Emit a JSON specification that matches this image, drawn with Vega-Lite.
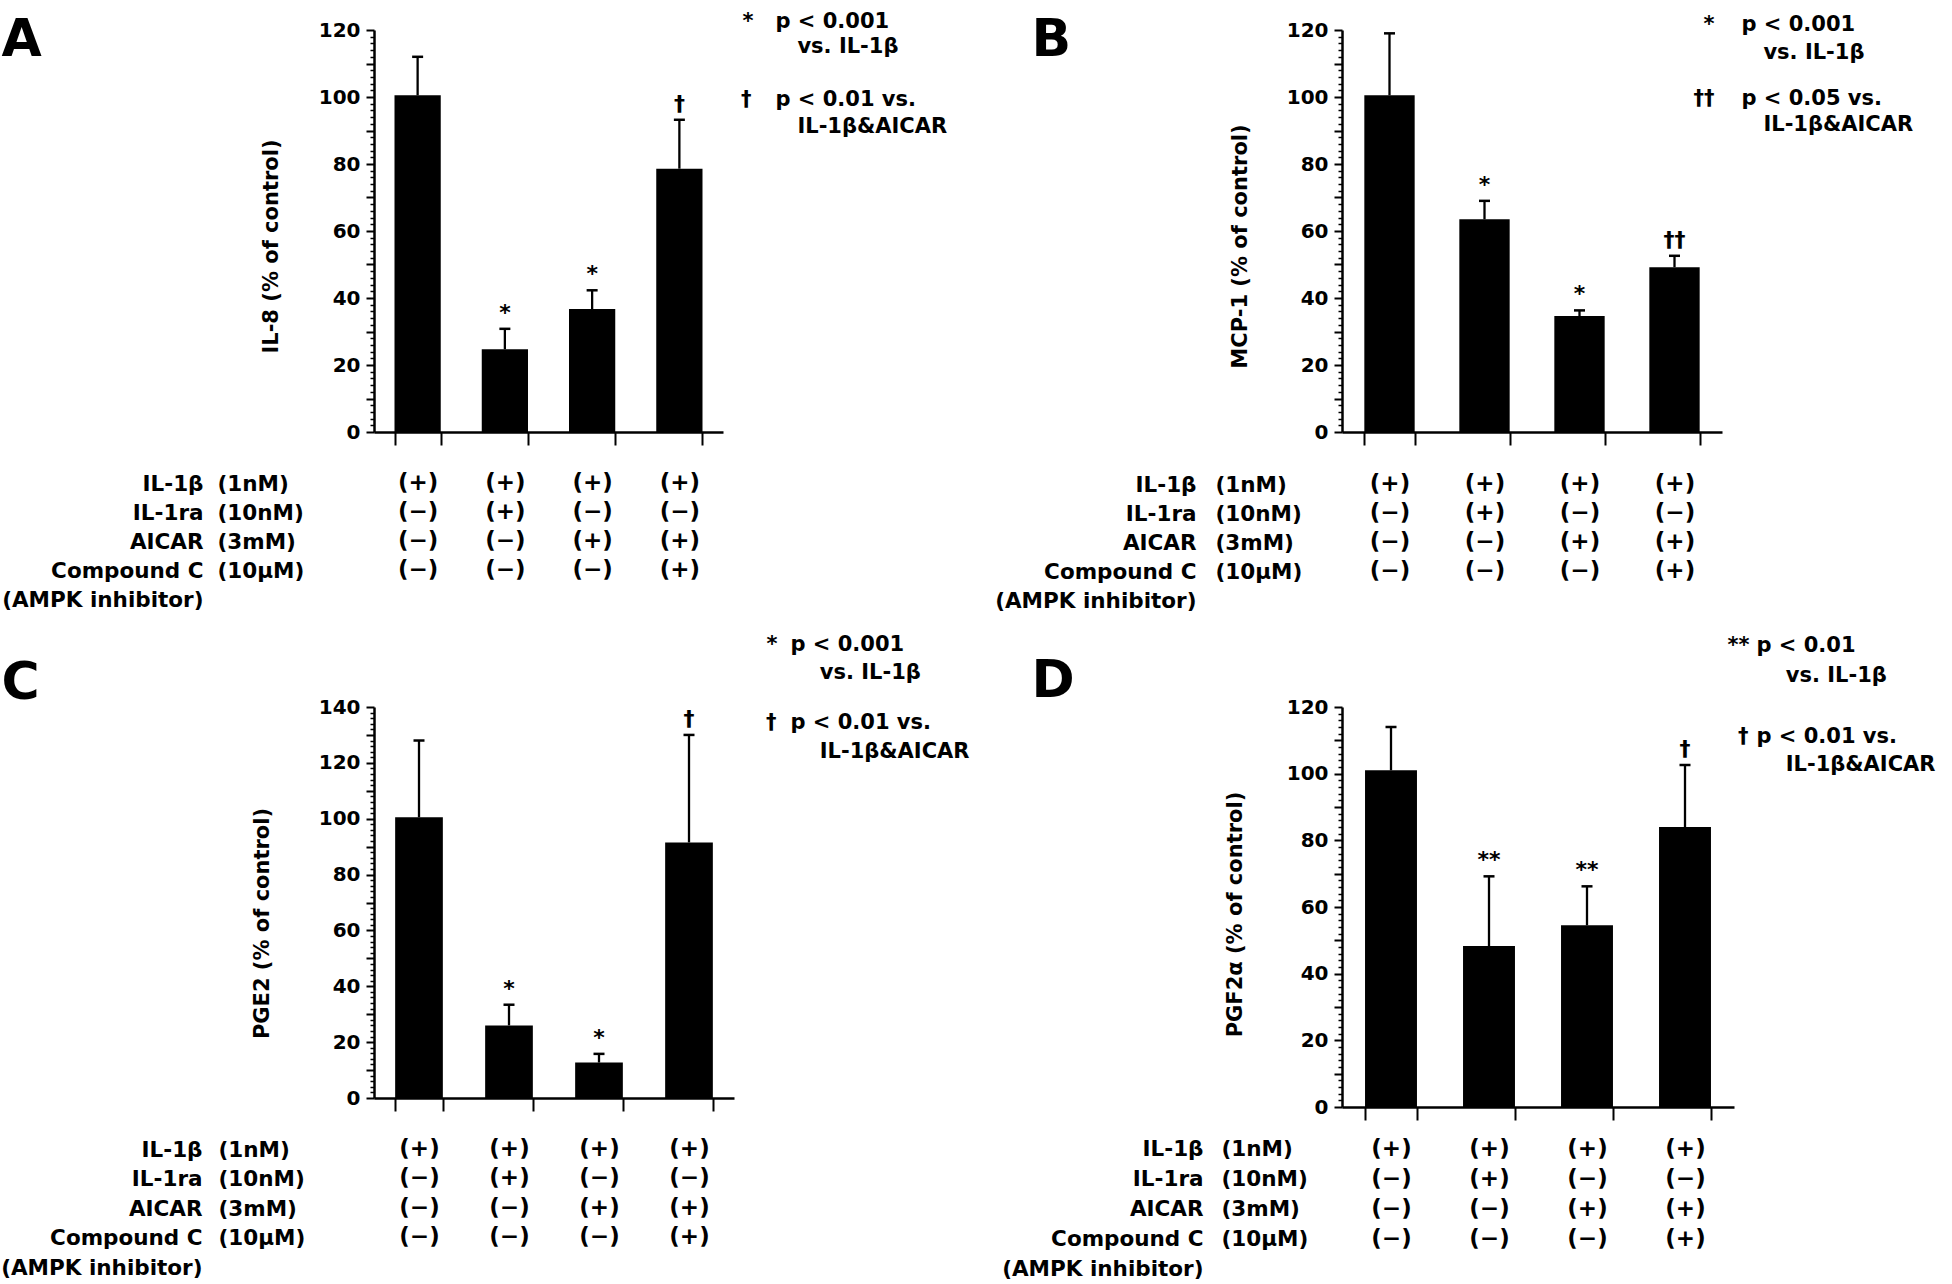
{
  "$schema": "https://vega.github.io/schema/vega-lite/v6.json",
  "background": "white",
  "padding": {"left": 0, "top": 6, "right": 0, "bottom": 0},
  "bounds": "flush",
  "align": "all",
  "columns": 2,
  "spacing": {"row": 275, "column": 576},
  "resolve": {"scale": {"x": "independent", "y": "independent"}},
  "config": {
    "view": {"stroke": null},
    "axis": {"labelFont": "DejaVu Sans", "titleFont": "DejaVu Sans", "labelFontWeight": "bold", "titleFontWeight": "bold", "labelColor": "black", "titleColor": "black", "tickColor": "black", "domainColor": "black", "grid": false}
  },
  "concat": [
    {
      "width": 349, "height": 402,
      "data": {"values": [
        {"cond": "+−−−", "mean": 100.5, "err": 112, "ann": ""},
        {"cond": "++−−", "mean": 24.7, "err": 30.8, "ann": "*"},
        {"cond": "+−+−", "mean": 36.7, "err": 42.3, "ann": "*"},
        {"cond": "+−++", "mean": 78.6, "err": 93.2, "ann": "†"}
      ]},
      "resolve": {"axis": {"x": "independent", "y": "independent"}},
      "layer": [
        {"mark": {"type": "bar", "color": "black"},
         "encoding": {
           "x": {"field": "cond", "type": "nominal", "sort": null, "scale": {"paddingInner": 0.47, "paddingOuter": 0.235},
                 "axis": {"orient": "bottom", "tickBand": "extent", "tickSize": 13, "tickWidth": 2, "domainWidth": 2.5, "labelAngle": 0, "labelFontSize": 23, "labelLineHeight": 29, "labelPadding": 26, "labelBaseline": "top",
                          "labelExpr": "isString(datum.value) ? ['(' + slice(datum.value,0,1) + ')', '(' + slice(datum.value,1,2) + ')', '(' + slice(datum.value,2,3) + ')', '(' + slice(datum.value,3,4) + ')'] : ''",
                          "title": ["IL-1β", "IL-1ra", "AICAR", "Compound C", "(AMPK inhibitor)"], "titleFontSize": 21.5, "titleLineHeight": 29, "titleAlign": "right", "titleBaseline": "top", "titleX": -171, "titleY": 41}},
           "y": {"field": "mean", "type": "quantitative", "scale": {"domain": [0, 120], "nice": false},
                 "axis": {"orient": "left", "values": [0,10,20,30,40,50,60,70,80,90,100,110,120], "labelExpr": "datum.value % 20 === 0 ? datum.label : ''", "tickSize": 8, "tickWidth": 2, "domainWidth": 2.5, "labelFontSize": 20, "labelPadding": 6,
                          "title": "IL-8 (% of control)", "titleFontSize": 21, "titleAngle": -90, "titleAlign": "center", "titleBaseline": "middle", "titleX": -103, "titleY": 216}}
         }},
        {"mark": {"type": "rule", "color": "black", "strokeWidth": 2.3},
         "encoding": {
           "x": {"field": "cond", "type": "nominal", "sort": null,
                 "axis": {"orient": "bottom", "labels": false, "ticks": false, "domain": false, "title": ["(1nM)", "(10nM)", "(3mM)", "(10μM)"], "titleFontSize": 21.5, "titleLineHeight": 29, "titleAlign": "left", "titleBaseline": "top", "titleX": -157, "titleY": 41}},
           "y": {"field": "mean", "type": "quantitative",
                 "axis": {"orient": "right", "labels": false, "ticks": false, "domain": false, "title": ["p < 0.001", "\u200b\u00a0\u00a0\u00a0vs. IL-1β"], "titleFontSize": 21, "titleLineHeight": 25, "titleAngle": 0, "titleAlign": "left", "titleBaseline": "top", "titleX": 52, "titleY": -20}},
           "y2": {"field": "err"}
         }},
        {"mark": {"type": "point", "shape": "stroke", "size": 121, "strokeWidth": 2.5, "color": "black", "opacity": 1},
         "encoding": {
           "x": {"field": "cond", "type": "nominal", "sort": null,
                 "axis": {"orient": "top", "labels": false, "ticks": false, "domain": false, "title": "*", "titleFontSize": 21, "titleAlign": "right", "titleBaseline": "top", "titleX": 379, "titleY": -20}},
           "y": {"field": "err", "type": "quantitative",
                 "axis": {"orient": "left", "labels": false, "domain": false, "tickSize": 4, "tickWidth": 1.5, "values": [2,4,6,8,12,14,16,18,22,24,26,28,32,34,36,38,42,44,46,48,52,54,56,58,62,64,66,68,72,74,76,78,82,84,86,88,92,94,96,98,102,104,106,108,112,114,116,118],
                          "title": "A", "titleFontSize": 52, "titleAngle": 0, "titleAlign": "left", "titleBaseline": "top", "titleX": -373, "titleY": -16}}
         }},
        {"mark": {"type": "text", "color": "black", "font": "DejaVu Sans", "fontWeight": "bold", "fontSize": 22, "baseline": "alphabetic", "dy": -9},
         "encoding": {
           "x": {"field": "cond", "type": "nominal", "sort": null,
                 "axis": {"orient": "top", "labels": false, "ticks": false, "domain": false, "title": "†", "titleFontSize": 21, "titleAlign": "right", "titleBaseline": "top", "titleX": 377, "titleY": 58}},
           "y": {"field": "err", "type": "quantitative",
                 "axis": {"orient": "right", "labels": false, "ticks": false, "domain": false, "title": ["p < 0.01 vs.", "\u200b\u00a0\u00a0\u00a0IL-1β&AICAR"], "titleFontSize": 21, "titleLineHeight": 27, "titleAngle": 0, "titleAlign": "left", "titleBaseline": "top", "titleX": 52, "titleY": 58}},
           "text": {"field": "ann"}
         }}
      ]
    },
    {
      "width": 380, "height": 402,
      "data": {"values": [
        {"cond": "+−−−", "mean": 100.5, "err": 119, "ann": ""},
        {"cond": "++−−", "mean": 63.5, "err": 69, "ann": "*"},
        {"cond": "+−+−", "mean": 34.6, "err": 36.3, "ann": "*"},
        {"cond": "+−++", "mean": 49.2, "err": 52.6, "ann": "††"}
      ]},
      "resolve": {"axis": {"x": "independent", "y": "independent"}},
      "layer": [
        {"mark": {"type": "bar", "color": "black"},
         "encoding": {
           "x": {"field": "cond", "type": "nominal", "sort": null, "scale": {"paddingInner": 0.47, "paddingOuter": 0.235},
                 "axis": {"orient": "bottom", "tickBand": "extent", "tickSize": 13, "tickWidth": 2, "domainWidth": 2.5, "labelAngle": 0, "labelFontSize": 23, "labelLineHeight": 29, "labelPadding": 27, "labelBaseline": "top",
                          "labelExpr": "isString(datum.value) ? ['(' + slice(datum.value,0,1) + ')', '(' + slice(datum.value,1,2) + ')', '(' + slice(datum.value,2,3) + ')', '(' + slice(datum.value,3,4) + ')'] : ''",
                          "title": ["IL-1β", "IL-1ra", "AICAR", "Compound C", "(AMPK inhibitor)"], "titleFontSize": 21.5, "titleLineHeight": 29, "titleAlign": "right", "titleBaseline": "top", "titleX": -146, "titleY": 42}},
           "y": {"field": "mean", "type": "quantitative", "scale": {"domain": [0, 120], "nice": false},
                 "axis": {"orient": "left", "values": [0,10,20,30,40,50,60,70,80,90,100,110,120], "labelExpr": "datum.value % 20 === 0 ? datum.label : ''", "tickSize": 8, "tickWidth": 2, "domainWidth": 2.5, "labelFontSize": 20, "labelPadding": 6,
                          "title": "MCP-1 (% of control)", "titleFontSize": 21, "titleAngle": -90, "titleAlign": "center", "titleBaseline": "middle", "titleX": -102, "titleY": 216}}
         }},
        {"mark": {"type": "rule", "color": "black", "strokeWidth": 2.3},
         "encoding": {
           "x": {"field": "cond", "type": "nominal", "sort": null,
                 "axis": {"orient": "bottom", "labels": false, "ticks": false, "domain": false, "title": ["(1nM)", "(10nM)", "(3mM)", "(10μM)"], "titleFontSize": 21.5, "titleLineHeight": 29, "titleAlign": "left", "titleBaseline": "top", "titleX": -127, "titleY": 42}},
           "y": {"field": "mean", "type": "quantitative",
                 "axis": {"orient": "right", "labels": false, "ticks": false, "domain": false, "title": ["p < 0.001", "\u200b\u00a0\u00a0\u00a0vs. IL-1β"], "titleFontSize": 21, "titleLineHeight": 28.5, "titleAngle": 0, "titleAlign": "left", "titleBaseline": "top", "titleX": 19, "titleY": -17}},
           "y2": {"field": "err"}
         }},
        {"mark": {"type": "point", "shape": "stroke", "size": 121, "strokeWidth": 2.5, "color": "black", "opacity": 1},
         "encoding": {
           "x": {"field": "cond", "type": "nominal", "sort": null,
                 "axis": {"orient": "top", "labels": false, "ticks": false, "domain": false, "title": "*", "titleFontSize": 21, "titleAlign": "right", "titleBaseline": "top", "titleX": 372, "titleY": -17}},
           "y": {"field": "err", "type": "quantitative",
                 "axis": {"orient": "left", "labels": false, "domain": false, "tickSize": 4, "tickWidth": 1.5, "values": [2,4,6,8,12,14,16,18,22,24,26,28,32,34,36,38,42,44,46,48,52,54,56,58,62,64,66,68,72,74,76,78,82,84,86,88,92,94,96,98,102,104,106,108,112,114,116,118],
                          "title": "B", "titleFontSize": 52, "titleAngle": 0, "titleAlign": "left", "titleBaseline": "top", "titleX": -311, "titleY": -16}}
         }},
        {"mark": {"type": "text", "color": "black", "font": "DejaVu Sans", "fontWeight": "bold", "fontSize": 22, "baseline": "alphabetic", "dy": -9},
         "encoding": {
           "x": {"field": "cond", "type": "nominal", "sort": null,
                 "axis": {"orient": "top", "labels": false, "ticks": false, "domain": false, "title": "††", "titleFontSize": 21, "titleAlign": "right", "titleBaseline": "top", "titleX": 372, "titleY": 57}},
           "y": {"field": "err", "type": "quantitative",
                 "axis": {"orient": "right", "labels": false, "ticks": false, "domain": false, "title": ["p < 0.05 vs.", "\u200b\u00a0\u00a0\u00a0IL-1β&AICAR"], "titleFontSize": 21, "titleLineHeight": 26, "titleAngle": 0, "titleAlign": "left", "titleBaseline": "top", "titleX": 19, "titleY": 57}},
           "text": {"field": "ann"}
         }}
      ]
    },
    {
      "width": 360, "height": 391,
      "data": {"values": [
        {"cond": "+−−−", "mean": 100.5, "err": 128, "ann": ""},
        {"cond": "++−−", "mean": 26, "err": 33.4, "ann": "*"},
        {"cond": "+−+−", "mean": 12.7, "err": 15.8, "ann": "*"},
        {"cond": "+−++", "mean": 91.5, "err": 130, "ann": "†"}
      ]},
      "resolve": {"axis": {"x": "independent", "y": "independent"}},
      "layer": [
        {"mark": {"type": "bar", "color": "black"},
         "encoding": {
           "x": {"field": "cond", "type": "nominal", "sort": null, "scale": {"paddingInner": 0.47, "paddingOuter": 0.235},
                 "axis": {"orient": "bottom", "tickBand": "extent", "tickSize": 13, "tickWidth": 2, "domainWidth": 2.5, "labelAngle": 0, "labelFontSize": 23, "labelLineHeight": 29.5, "labelPadding": 26, "labelBaseline": "top",
                          "labelExpr": "isString(datum.value) ? ['(' + slice(datum.value,0,1) + ')', '(' + slice(datum.value,1,2) + ')', '(' + slice(datum.value,2,3) + ')', '(' + slice(datum.value,3,4) + ')'] : ''",
                          "title": ["IL-1β", "IL-1ra", "AICAR", "Compound C", "(AMPK inhibitor)"], "titleFontSize": 21.5, "titleLineHeight": 29.5, "titleAlign": "right", "titleBaseline": "top", "titleX": -172, "titleY": 41}},
           "y": {"field": "mean", "type": "quantitative", "scale": {"domain": [0, 140], "nice": false},
                 "axis": {"orient": "left", "values": [0,10,20,30,40,50,60,70,80,90,100,110,120,130,140], "labelExpr": "datum.value % 20 === 0 ? datum.label : ''", "tickSize": 8, "tickWidth": 2, "domainWidth": 2.5, "labelFontSize": 20, "labelPadding": 6,
                          "title": "PGE2 (% of control)", "titleFontSize": 21, "titleAngle": -90, "titleAlign": "center", "titleBaseline": "middle", "titleX": -112, "titleY": 216}}
         }},
        {"mark": {"type": "rule", "color": "black", "strokeWidth": 2.3},
         "encoding": {
           "x": {"field": "cond", "type": "nominal", "sort": null,
                 "axis": {"orient": "bottom", "labels": false, "ticks": false, "domain": false, "title": ["(1nM)", "(10nM)", "(3mM)", "(10μM)"], "titleFontSize": 21.5, "titleLineHeight": 29.5, "titleAlign": "left", "titleBaseline": "top", "titleX": -156, "titleY": 41}},
           "y": {"field": "mean", "type": "quantitative",
                 "axis": {"orient": "right", "labels": false, "ticks": false, "domain": false, "title": ["p < 0.001", "\u200b\u00a0\u00a0\u00a0\u00a0vs. IL-1β"], "titleFontSize": 21, "titleLineHeight": 28.5, "titleAngle": 0, "titleAlign": "left", "titleBaseline": "top", "titleX": 56, "titleY": -74}},
           "y2": {"field": "err"}
         }},
        {"mark": {"type": "point", "shape": "stroke", "size": 121, "strokeWidth": 2.5, "color": "black", "opacity": 1},
         "encoding": {
           "x": {"field": "cond", "type": "nominal", "sort": null,
                 "axis": {"orient": "top", "labels": false, "ticks": false, "domain": false, "title": "*", "titleFontSize": 21, "titleAlign": "right", "titleBaseline": "top", "titleX": 403, "titleY": -74}},
           "y": {"field": "err", "type": "quantitative",
                 "axis": {"orient": "left", "labels": false, "domain": false, "tickSize": 4, "tickWidth": 1.5, "values": [2,4,6,8,12,14,16,18,22,24,26,28,32,34,36,38,42,44,46,48,52,54,56,58,62,64,66,68,72,74,76,78,82,84,86,88,92,94,96,98,102,104,106,108,112,114,116,118,122,124,126,128,132,134,136,138],
                          "title": "C", "titleFontSize": 52, "titleAngle": 0, "titleAlign": "left", "titleBaseline": "top", "titleX": -373, "titleY": -50}}
         }},
        {"mark": {"type": "text", "color": "black", "font": "DejaVu Sans", "fontWeight": "bold", "fontSize": 22, "baseline": "alphabetic", "dy": -9},
         "encoding": {
           "x": {"field": "cond", "type": "nominal", "sort": null,
                 "axis": {"orient": "top", "labels": false, "ticks": false, "domain": false, "title": "†", "titleFontSize": 21, "titleAlign": "right", "titleBaseline": "top", "titleX": 402, "titleY": 4}},
           "y": {"field": "err", "type": "quantitative",
                 "axis": {"orient": "right", "labels": false, "ticks": false, "domain": false, "title": ["p < 0.01 vs.", "\u200b\u00a0\u00a0\u00a0\u00a0IL-1β&AICAR"], "titleFontSize": 21, "titleLineHeight": 29, "titleAngle": 0, "titleAlign": "left", "titleBaseline": "top", "titleX": 56, "titleY": 4}},
           "text": {"field": "ann"}
         }}
      ]
    },
    {
      "width": 392, "height": 400,
      "data": {"values": [
        {"cond": "+−−−", "mean": 101, "err": 114, "ann": ""},
        {"cond": "++−−", "mean": 48.3, "err": 69.2, "ann": "**"},
        {"cond": "+−+−", "mean": 54.5, "err": 66.2, "ann": "**"},
        {"cond": "+−++", "mean": 84, "err": 102.6, "ann": "†"}
      ]},
      "resolve": {"axis": {"x": "independent", "y": "independent"}},
      "layer": [
        {"mark": {"type": "bar", "color": "black"},
         "encoding": {
           "x": {"field": "cond", "type": "nominal", "sort": null, "scale": {"paddingInner": 0.47, "paddingOuter": 0.235},
                 "axis": {"orient": "bottom", "tickBand": "extent", "tickSize": 13, "tickWidth": 2, "domainWidth": 2.5, "labelAngle": 0, "labelFontSize": 23, "labelLineHeight": 30, "labelPadding": 17, "labelBaseline": "top",
                          "labelExpr": "isString(datum.value) ? ['(' + slice(datum.value,0,1) + ')', '(' + slice(datum.value,1,2) + ')', '(' + slice(datum.value,2,3) + ')', '(' + slice(datum.value,3,4) + ')'] : ''",
                          "title": ["IL-1β", "IL-1ra", "AICAR", "Compound C", "(AMPK inhibitor)"], "titleFontSize": 21.5, "titleLineHeight": 30, "titleAlign": "right", "titleBaseline": "top", "titleX": -139, "titleY": 31}},
           "y": {"field": "mean", "type": "quantitative", "scale": {"domain": [0, 120], "nice": false},
                 "axis": {"orient": "left", "values": [0,10,20,30,40,50,60,70,80,90,100,110,120], "labelExpr": "datum.value % 20 === 0 ? datum.label : ''", "tickSize": 8, "tickWidth": 2, "domainWidth": 2.5, "labelFontSize": 20, "labelPadding": 6,
                          "title": "PGF2α (% of control)", "titleFontSize": 21, "titleAngle": -90, "titleAlign": "center", "titleBaseline": "middle", "titleX": -107, "titleY": 207}}
         }},
        {"mark": {"type": "rule", "color": "black", "strokeWidth": 2.3},
         "encoding": {
           "x": {"field": "cond", "type": "nominal", "sort": null,
                 "axis": {"orient": "bottom", "labels": false, "ticks": false, "domain": false, "title": ["(1nM)", "(10nM)", "(3mM)", "(10μM)"], "titleFontSize": 21.5, "titleLineHeight": 30, "titleAlign": "left", "titleBaseline": "top", "titleX": -121, "titleY": 31}},
           "y": {"field": "mean", "type": "quantitative",
                 "axis": {"orient": "right", "labels": false, "ticks": false, "domain": false, "title": ["p < 0.01", "\u200b\u00a0\u00a0\u00a0\u00a0vs. IL-1β"], "titleFontSize": 21, "titleLineHeight": 30, "titleAngle": 0, "titleAlign": "left", "titleBaseline": "top", "titleX": 22, "titleY": -73}},
           "y2": {"field": "err"}
         }},
        {"mark": {"type": "point", "shape": "stroke", "size": 121, "strokeWidth": 2.5, "color": "black", "opacity": 1},
         "encoding": {
           "x": {"field": "cond", "type": "nominal", "sort": null,
                 "axis": {"orient": "top", "labels": false, "ticks": false, "domain": false, "title": "**", "titleFontSize": 21, "titleAlign": "right", "titleBaseline": "top", "titleX": 407, "titleY": -73}},
           "y": {"field": "err", "type": "quantitative",
                 "axis": {"orient": "left", "labels": false, "domain": false, "tickSize": 4, "tickWidth": 1.5, "values": [2,4,6,8,12,14,16,18,22,24,26,28,32,34,36,38,42,44,46,48,52,54,56,58,62,64,66,68,72,74,76,78,82,84,86,88,92,94,96,98,102,104,106,108,112,114,116,118],
                          "title": "D", "titleFontSize": 52, "titleAngle": 0, "titleAlign": "left", "titleBaseline": "top", "titleX": -311, "titleY": -52}}
         }},
        {"mark": {"type": "text", "color": "black", "font": "DejaVu Sans", "fontWeight": "bold", "fontSize": 22, "baseline": "alphabetic", "dy": -9},
         "encoding": {
           "x": {"field": "cond", "type": "nominal", "sort": null,
                 "axis": {"orient": "top", "labels": false, "ticks": false, "domain": false, "title": "†", "titleFontSize": 21, "titleAlign": "right", "titleBaseline": "top", "titleX": 406, "titleY": 18}},
           "y": {"field": "err", "type": "quantitative",
                 "axis": {"orient": "right", "labels": false, "ticks": false, "domain": false, "title": ["p < 0.01 vs.", "\u200b\u00a0\u00a0\u00a0\u00a0IL-1β&AICAR"], "titleFontSize": 21, "titleLineHeight": 28, "titleAngle": 0, "titleAlign": "left", "titleBaseline": "top", "titleX": 22, "titleY": 18}},
           "text": {"field": "ann"}
         }}
      ]
    }
  ]
}
